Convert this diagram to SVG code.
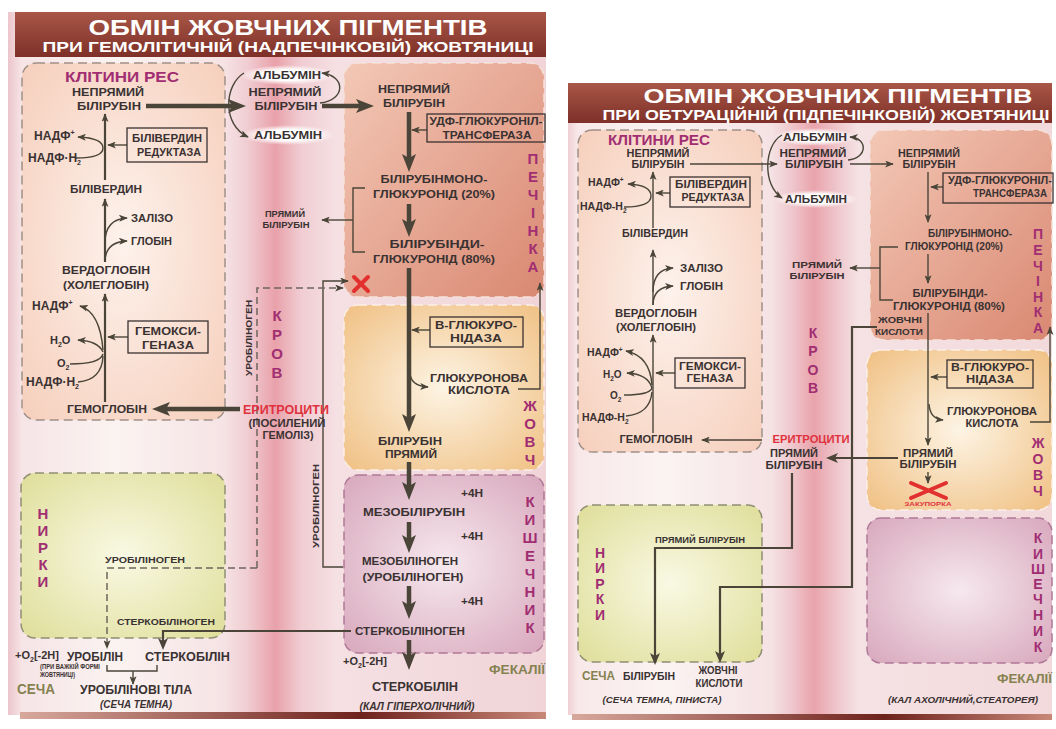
<svg xmlns="http://www.w3.org/2000/svg" width="1056" height="729" viewBox="0 0 1056 729">
<defs>
<linearGradient id="bgL" gradientUnits="userSpaceOnUse" x1="8" y1="0" x2="546" y2="0">
<stop offset="0" stop-color="#ecc5cb"/><stop offset="0.025" stop-color="#f6e4e6"/><stop offset="0.2" stop-color="#fbf3f1"/><stop offset="0.4" stop-color="#f6e3e5"/><stop offset="0.445" stop-color="#f0cdd2"/><stop offset="0.497" stop-color="#e9a1aa"/><stop offset="0.545" stop-color="#f0cdd2"/><stop offset="0.61" stop-color="#f5e0e3"/><stop offset="1" stop-color="#f0d4d8"/>
</linearGradient>
<linearGradient id="bgR" gradientUnits="userSpaceOnUse" x1="568" y1="0" x2="1052" y2="0">
<stop offset="0" stop-color="#efd0d4"/><stop offset="0.02" stop-color="#f8e8e9"/><stop offset="0.2" stop-color="#fbf3f2"/><stop offset="0.42" stop-color="#f5e2e4"/><stop offset="0.46" stop-color="#efc9ce"/><stop offset="0.508" stop-color="#e9a3ab"/><stop offset="0.56" stop-color="#efc9ce"/><stop offset="0.6" stop-color="#f5e2e4"/><stop offset="1" stop-color="#f2d9dc"/>
</linearGradient>
<linearGradient id="title" x1="0" y1="0" x2="0" y2="1">
<stop offset="0" stop-color="#a85646"/><stop offset="1" stop-color="#7e3028"/>
</linearGradient>
<linearGradient id="foot" x1="0" y1="0" x2="1" y2="0">
<stop offset="0" stop-color="#d8a89c"/><stop offset="0.65" stop-color="#6e221c"/><stop offset="1" stop-color="#c88878"/>
</linearGradient>
<radialGradient id="gRes" cx="0.5" cy="0.5" r="0.7"><stop offset="0" stop-color="#fdf2ec"/><stop offset="1" stop-color="#f6cfbc"/></radialGradient>
<linearGradient id="gLiv" x1="0" y1="0" x2="1" y2="1"><stop offset="0" stop-color="#f3c8b6"/><stop offset="1" stop-color="#d98872"/></linearGradient>
<radialGradient id="gBile" cx="0.5" cy="0.5" r="0.7"><stop offset="0" stop-color="#fdf4e4"/><stop offset="1" stop-color="#f0c083"/></radialGradient>
<radialGradient id="gInt" cx="0.5" cy="0.5" r="0.7"><stop offset="0" stop-color="#f6e8ee"/><stop offset="1" stop-color="#d8a8bc"/></radialGradient>
<radialGradient id="gKid" cx="0.5" cy="0.5" r="0.7"><stop offset="0" stop-color="#f9f9e4"/><stop offset="1" stop-color="#dfde9a"/></radialGradient>
<radialGradient id="gW" cx="0.5" cy="0.5" r="0.5"><stop offset="0.55" stop-color="#ffffff"/><stop offset="1" stop-color="#ffffff" stop-opacity="0"/></radialGradient>
<marker id="a" viewBox="0 0 10 8" markerWidth="9" markerHeight="7" refX="9" refY="4" orient="auto" markerUnits="userSpaceOnUse"><path d="M0 0 L10 4 L0 8 L2.5 4 Z" fill="#4a4538"/></marker>
<marker id="m" viewBox="0 0 12 10" markerWidth="12" markerHeight="10" refX="7" refY="5" orient="auto" markerUnits="userSpaceOnUse"><path d="M0 0 L12 5 L0 10 L3 5 Z" fill="#4a4538"/></marker>
<marker id="b" viewBox="0 0 18 14" markerWidth="18" markerHeight="14" refX="9" refY="7" orient="auto" markerUnits="userSpaceOnUse"><path d="M0 0 L18 7 L0 14 L4 7 Z" fill="#4a4538"/></marker>
</defs>
<style>
.t{font-family:"Liberation Sans",Arial,sans-serif;font-weight:bold;fill:#3a3232}
.c{text-anchor:middle}
.p{fill:#a12e72}
.r{fill:#e0323e}
.o{fill:#858250}
.w{fill:#ffffff}
.i{font-style:italic}
.ln{fill:none;stroke:#4a4538;stroke-width:1.4}
.md{fill:none;stroke:#4a4538;stroke-width:2.2}
.th{fill:none;stroke:#4a4538;stroke-width:4.5}
.ds{fill:none;stroke:#6e665e;stroke-width:1.5;stroke-dasharray:7 4}
.box{fill:none;stroke:#3a3232;stroke-width:1.3}
.bx{stroke-width:1.5;stroke-dasharray:9 5}
.x{stroke:#e2302e;stroke-width:4;stroke-linecap:round}
</style>
<rect width="1056" height="729" fill="#ffffff"/>
<!-- panels -->
<g id="panel-left">
<rect x="8" y="12" width="538" height="703" fill="url(#bgL)"/>
<rect x="15" y="12" width="531" height="45" fill="url(#title)"/>
<rect x="20" y="712" width="526" height="7" fill="url(#foot)"/>
</g>
<g id="panel-right">
<rect x="568" y="83" width="484" height="632" fill="url(#bgR)"/>
<rect x="568" y="83" width="484" height="40" fill="url(#title)"/>
<rect x="572" y="714" width="480" height="6" fill="url(#foot)"/>
</g>
<g id="title-left">
<text class="t c w" x="288" y="35" font-size="22" textLength="399" lengthAdjust="spacingAndGlyphs">ОБМІН ЖОВЧНИХ ПІГМЕНТІВ</text>
<text class="t c w" x="288" y="52" font-size="15" textLength="491" lengthAdjust="spacingAndGlyphs">ПРИ ГЕМОЛІТИЧНІЙ (НАДПЕЧІНКОВІЙ) ЖОВТЯНИЦІ</text>
</g>
<g id="title-right">
<text class="t c w" x="838" y="103" font-size="21" textLength="389" lengthAdjust="spacingAndGlyphs">ОБМІН ЖОВЧНИХ ПІГМЕНТІВ</text>
<text class="t c w" x="826" y="120" font-size="14.5" textLength="447" lengthAdjust="spacingAndGlyphs">ПРИ ОБТУРАЦІЙНІЙ (ПІДПЕЧІНКОВІЙ) ЖОВТЯНИЦІ</text>
</g>
<!-- LEFT boxes -->
<g id="L-res-box"><rect x="22" y="63" width="203" height="357" rx="14" fill="url(#gRes)" class="bx" stroke="#a09088"/></g>
<g id="L-liver-box"><rect x="344" y="63" width="200" height="234" rx="14" fill="url(#gLiv)" class="bx" stroke="#f5e2da"/></g>
<g id="L-bile-box"><rect x="344" y="305" width="200" height="165" rx="14" fill="url(#gBile)" class="bx" stroke="#fbefe6"/></g>
<g id="L-int-box"><rect x="344" y="475" width="200" height="178" rx="14" fill="url(#gInt)" class="bx" stroke="#b07898"/></g>
<g id="L-kid-box"><rect x="21" y="473" width="204" height="165" rx="14" fill="url(#gKid)" class="bx" stroke="#8f8f74"/></g>
<!-- RIGHT boxes -->
<g id="R-res-box"><rect x="578" y="130" width="184" height="322" rx="14" fill="url(#gRes)" class="bx" stroke="#a09088"/></g>
<g id="R-liver-box"><rect x="870" y="130" width="182" height="210" rx="14" fill="url(#gLiv)" class="bx" stroke="#f5e2da"/></g>
<g id="R-bile-box"><rect x="867" y="350" width="185" height="160" rx="14" fill="url(#gBile)" class="bx" stroke="#fbefe6"/></g>
<g id="R-int-box"><rect x="867" y="518" width="185" height="145" rx="14" fill="url(#gInt)" class="bx" stroke="#b07898"/></g>
<g id="R-kid-box"><rect x="578" y="505" width="184" height="157" rx="14" fill="url(#gKid)" class="bx" stroke="#8f8f74"/></g>
<!-- albumin glows -->
<g id="glows">
<ellipse cx="287" cy="75" rx="47" ry="10" fill="url(#gW)"/>
<ellipse cx="288" cy="135" rx="47" ry="10" fill="url(#gW)"/>
<ellipse cx="815" cy="137" rx="42" ry="9" fill="url(#gW)"/>
<ellipse cx="816" cy="199" rx="42" ry="9" fill="url(#gW)"/>
</g>
<!-- CONNECTORS -->
<g id="connectors">
<!-- left -->
<path class="th" d="M146 106 H237" marker-end="url(#b)"/>
<path class="th" d="M322 106 H365" marker-end="url(#b)"/>
<path class="ln" d="M244 73 C 224 85, 222 125, 248 137" marker-end="url(#a)"/>
<path class="ln" d="M320 103 C 346 100, 346 76, 322 73" marker-end="url(#a)"/>
<path class="md" d="M105 180 V114" marker-end="url(#a)"/>
<path class="ln" d="M76 158 Q 103 158 103 148 Q 103 138 78 137" marker-end="url(#a)"/>
<path class="ln" d="M127 145 H108" marker-end="url(#a)"/>
<path class="md" d="M105 262 V199" marker-end="url(#a)"/>
<path class="ln" d="M105 243 Q 105 219 127 218" marker-end="url(#a)"/>
<path class="ln" d="M105 262 Q 105 242 127 241" marker-end="url(#a)"/>
<path class="md" d="M105 402 V294" marker-end="url(#a)"/>
<path class="ln" d="M103 350 Q 100 312 80 306" marker-end="url(#a)"/>
<path class="ln" d="M103 352 Q 98 341 78 340" marker-end="url(#a)"/>
<path class="ln" d="M70 364 Q 100 364 103 354"/>
<path class="ln" d="M78 382 Q 102 380 103 356"/>
<path class="ln" d="M128 337 H108" marker-end="url(#a)"/>
<path class="th" d="M240 409 H161" marker-end="url(#b)"/>
<path class="th" d="M409 112 V163" marker-end="url(#b)"/>
<path class="ln" d="M427 130 H412" marker-end="url(#a)"/>
<path class="th" d="M409 204 V228" marker-end="url(#b)"/>
<path class="ln" d="M365 188 H353 V252 H365"/>
<path class="ln" d="M353 220 H322" marker-end="url(#a)"/>
<path class="th" d="M409 268 V423" marker-end="url(#b)"/>
<path class="ln" d="M430 330 H412" marker-end="url(#a)"/>
<path class="ln" d="M410 372 Q 410 386 428 387" marker-end="url(#a)"/>
<path class="ln" d="M518 389 H540 V283" marker-end="url(#a)"/>
<path class="th" d="M409 462 V491" marker-end="url(#b)"/>
<path class="th" d="M409 522 V544" marker-end="url(#b)"/>
<path class="th" d="M409 586 V610" marker-end="url(#b)"/>
<path class="th" d="M409 640 V661" marker-end="url(#b)"/>
<path class="ln" d="M343 567 H323 V281 H348" marker-end="url(#a)"/>
<path class="ds" d="M257 568 V288 H343" marker-end="url(#a)"/>
<path class="ds" d="M257 568 H107 V648" marker-end="url(#a)"/>
<path class="md" d="M351 631 H163 V645" marker-end="url(#m)"/>
<path class="ln" d="M107 665 V671 H157 V665"/>
<path class="ln" d="M133 671 V684" marker-end="url(#a)"/>
<!-- right -->
<path class="ln" d="M690 164 H777" marker-end="url(#a)"/>
<path class="ln" d="M782 135 C 764 145, 762 185, 782 198" marker-end="url(#a)"/>
<path class="ln" d="M848 160 C 868 158, 868 138, 850 137" marker-end="url(#a)"/>
<path class="ln" d="M850 164 H893" marker-end="url(#a)"/>
<path class="ln" d="M653 228 V172" marker-end="url(#a)"/>
<path class="ln" d="M624 207 Q 651 207 651 196 Q 651 185 628 184" marker-end="url(#a)"/>
<path class="ln" d="M670 193 H656" marker-end="url(#a)"/>
<path class="ln" d="M653 305 V250" marker-end="url(#a)"/>
<path class="ln" d="M653 292 Q 653 269 673 268" marker-end="url(#a)"/>
<path class="ln" d="M653 305 Q 653 287 673 286" marker-end="url(#a)"/>
<path class="ln" d="M653 433 V335" marker-end="url(#a)"/>
<path class="ln" d="M652 385 Q 650 356 626 351" marker-end="url(#a)"/>
<path class="ln" d="M652 388 Q 648 374 627 373" marker-end="url(#a)"/>
<path class="ln" d="M624 395 Q 650 395 652 388"/>
<path class="ln" d="M626 416 Q 650 414 652 392"/>
<path class="ln" d="M675 373 H656" marker-end="url(#a)"/>
<path class="ln" d="M762 440 H702" marker-end="url(#a)"/>
<path class="ln" d="M928 172 V222" marker-end="url(#a)"/>
<path class="ln" d="M943 187 H931" marker-end="url(#a)"/>
<path class="ln" d="M928 254 V283" marker-end="url(#a)"/>
<path class="ln" d="M898 247 H880 V300 H893"/>
<path class="ln" d="M880 268 H850" marker-end="url(#a)"/>
<path class="ln" d="M928 313 V445" marker-end="url(#a)"/>
<path class="ln" d="M947 377 H931" marker-end="url(#a)"/>
<path class="ln" d="M929 404 Q 930 419 943 420" marker-end="url(#a)"/>
<path class="ln" d="M1030 422 H1050 V327" marker-end="url(#a)"/>
<path class="ln" d="M928 472 V483" marker-end="url(#a)"/>
<path class="md" d="M898 458 H831" marker-end="url(#m)"/>
<path class="md" d="M877 327 H852 V587 H720 V658" marker-end="url(#m)"/>
<path class="md" d="M792 473 V548 H655 V660" marker-end="url(#m)"/>
</g>
<!-- LEFT nodes -->
<g id="L-res-title"><text class="t c p" x="122" y="82" font-size="15" textLength="114" lengthAdjust="spacingAndGlyphs">КЛІТИНИ РЕС</text></g>
<g id="L-nepr1"><text class="t c" x="108" y="96" font-size="11" textLength="72" lengthAdjust="spacingAndGlyphs">НЕПРЯМИЙ</text><text class="t c" x="109" y="110" font-size="11" textLength="64" lengthAdjust="spacingAndGlyphs">БІЛІРУБІН</text></g>
<g id="L-alb1"><text class="t c" x="287" y="79" font-size="11" textLength="68" lengthAdjust="spacingAndGlyphs">АЛЬБУМІН</text></g>
<g id="L-nepr2"><text class="t c" x="285" y="96" font-size="11" textLength="73" lengthAdjust="spacingAndGlyphs">НЕПРЯМИЙ</text><text class="t c" x="286" y="110" font-size="11" textLength="63" lengthAdjust="spacingAndGlyphs">БІЛІРУБІН</text></g>
<g id="L-alb2"><text class="t c" x="288" y="139" font-size="11" textLength="68" lengthAdjust="spacingAndGlyphs">АЛЬБУМІН</text></g>
<g id="L-nepr3"><text class="t c" x="414" y="93" font-size="11" textLength="72" lengthAdjust="spacingAndGlyphs">НЕПРЯМИЙ</text><text class="t c" x="414" y="107" font-size="11" textLength="62" lengthAdjust="spacingAndGlyphs">БІЛІРУБІН</text></g>
<g id="L-nadp1"><text class="t" x="34" y="140" font-size="12">НАДФ<tspan dy="-5" font-size="7">+</tspan></text></g>
<g id="L-nadph1"><text class="t" x="28" y="162" font-size="12">НАДФ·Н<tspan dy="3" font-size="7">2</tspan></text></g>
<g id="L-bvr"><rect class="box" x="127" y="128" width="80" height="34"/><text class="t c" x="167" y="142" font-size="11" textLength="70" lengthAdjust="spacingAndGlyphs">БІЛІВЕРДИН</text><text class="t c" x="169" y="156" font-size="11" textLength="64" lengthAdjust="spacingAndGlyphs">РЕДУКТАЗА</text></g>
<g id="L-bv"><text class="t c" x="106" y="193" font-size="11" textLength="72" lengthAdjust="spacingAndGlyphs">БІЛІВЕРДИН</text></g>
<g id="L-fe"><text class="t" x="131" y="222" font-size="11" textLength="42" lengthAdjust="spacingAndGlyphs">ЗАЛІЗО</text></g>
<g id="L-glob"><text class="t" x="131" y="245" font-size="11" textLength="41" lengthAdjust="spacingAndGlyphs">ГЛОБІН</text></g>
<g id="L-verd"><text class="t c" x="106" y="274" font-size="11" textLength="88" lengthAdjust="spacingAndGlyphs">ВЕРДОГЛОБІН</text><text class="t c" x="106" y="289" font-size="11" textLength="86" lengthAdjust="spacingAndGlyphs">(ХОЛЕГЛОБІН)</text></g>
<g id="L-nadp2"><text class="t" x="32" y="310" font-size="12">НАДФ<tspan dy="-5" font-size="7">+</tspan></text></g>
<g id="L-h2o"><text class="t" x="50" y="344" font-size="11">H<tspan dy="3" font-size="7">2</tspan><tspan dy="-3">O</tspan></text></g>
<g id="L-o2"><text class="t" x="57" y="367" font-size="11">O<tspan dy="3" font-size="7">2</tspan></text></g>
<g id="L-nadph2"><text class="t" x="26" y="386" font-size="12">НАДФ·Н<tspan dy="3" font-size="7">2</tspan></text></g>
<g id="L-hox"><rect class="box" x="128" y="321" width="80" height="32"/><text class="t c" x="168" y="335" font-size="11" textLength="66" lengthAdjust="spacingAndGlyphs">ГЕМОКСИ-</text><text class="t c" x="168" y="349" font-size="11" textLength="52" lengthAdjust="spacingAndGlyphs">ГЕНАЗА</text></g>
<g id="L-hb"><text class="t c" x="107" y="413" font-size="11" textLength="80" lengthAdjust="spacingAndGlyphs">ГЕМОГЛОБІН</text></g>
<g id="L-ery"><text class="t c r" x="286" y="414" font-size="12" textLength="86" lengthAdjust="spacingAndGlyphs">ЕРИТРОЦИТИ</text><text class="t c" x="287" y="427" font-size="10" textLength="77" lengthAdjust="spacingAndGlyphs">(ПОСИЛЕНИЙ</text><text class="t c" x="288" y="439" font-size="10" textLength="51" lengthAdjust="spacingAndGlyphs">ГЕМОЛІЗ)</text></g>
<g id="L-krov" class="t c p" font-size="15"><text x="277" y="321">К</text><text x="277" y="340">Р</text><text x="277" y="359">О</text><text x="277" y="378">В</text></g>
<g id="L-uro1"><text class="t c" transform="translate(252 338) rotate(-90)" font-size="9" textLength="76" lengthAdjust="spacingAndGlyphs">УРОБІЛІНОГЕН</text></g>
<g id="L-uro2"><text class="t c" transform="translate(319 506) rotate(-90)" font-size="9" textLength="84" lengthAdjust="spacingAndGlyphs">УРОБІЛІНОГЕН</text></g>
<g id="L-pryamy"><text class="t c" x="285" y="217" font-size="8.5" textLength="40" lengthAdjust="spacingAndGlyphs">ПРЯМИЙ</text><text class="t c" x="286" y="228" font-size="8.5" textLength="47" lengthAdjust="spacingAndGlyphs">БІЛІРУБІН</text></g>
<g id="L-udf"><rect class="box" x="427" y="114" width="118" height="28"/><text class="t c" x="486" y="125" font-size="11" textLength="113" lengthAdjust="spacingAndGlyphs">УДФ-ГЛЮКУРОНІЛ-</text><text class="t c" x="487" y="139" font-size="11" textLength="89" lengthAdjust="spacingAndGlyphs">ТРАНСФЕРАЗА</text></g>
<g id="L-mono"><text class="t c" x="434" y="183" font-size="11" textLength="107" lengthAdjust="spacingAndGlyphs">БІЛІРУБІНМОНО-</text><text class="t c" x="434" y="198" font-size="11" textLength="122" lengthAdjust="spacingAndGlyphs">ГЛЮКУРОНІД (20%)</text></g>
<g id="L-di"><text class="t c" x="437" y="248" font-size="11" textLength="95" lengthAdjust="spacingAndGlyphs">БІЛІРУБІНДИ-</text><text class="t c" x="434" y="263" font-size="11" textLength="122" lengthAdjust="spacingAndGlyphs">ГЛЮКУРОНІД (80%)</text></g>
<g id="L-pechinka" class="t c p" font-size="15"><text x="533" y="164">П</text><text x="533" y="182">Е</text><text x="533" y="200">Ч</text><text x="533" y="218">І</text><text x="533" y="236">Н</text><text x="533" y="254">К</text><text x="533" y="272">А</text></g>
<g id="L-block"><path class="x" d="M354 277 L368 291 M368 277 L354 291"/></g>
<g id="L-bgluc"><rect class="box" x="430" y="317" width="93" height="30"/><text class="t c" x="476" y="329" font-size="11" textLength="82" lengthAdjust="spacingAndGlyphs">В-ГЛЮКУРО-</text><text class="t c" x="476" y="342" font-size="11" textLength="52" lengthAdjust="spacingAndGlyphs">НІДАЗА</text></g>
<g id="L-glucacid"><text class="t c" x="479" y="382" font-size="11" textLength="98" lengthAdjust="spacingAndGlyphs">ГЛЮКУРОНОВА</text><text class="t c" x="479" y="394" font-size="11" textLength="62" lengthAdjust="spacingAndGlyphs">КИСЛОТА</text></g>
<g id="L-zhovch" class="t c p" font-size="15"><text x="530" y="411">Ж</text><text x="530" y="429">О</text><text x="530" y="447">В</text><text x="530" y="465">Ч</text></g>
<g id="L-direct"><text class="t c" x="410" y="445" font-size="11" textLength="64" lengthAdjust="spacingAndGlyphs">БІЛІРУБІН</text><text class="t c" x="411" y="458" font-size="11" textLength="52" lengthAdjust="spacingAndGlyphs">ПРЯМИЙ</text></g>
<g id="L-h1"><text class="t" x="461" y="497" font-size="10" textLength="22" lengthAdjust="spacingAndGlyphs">+4Н</text></g>
<g id="L-mezobr"><text class="t c" x="414" y="516" font-size="11" textLength="102" lengthAdjust="spacingAndGlyphs">МЕЗОБІЛІРУБІН</text></g>
<g id="L-h2"><text class="t" x="461" y="540" font-size="10" textLength="22" lengthAdjust="spacingAndGlyphs">+4Н</text></g>
<g id="L-mezobg"><text class="t c" x="410" y="565" font-size="11" textLength="96" lengthAdjust="spacingAndGlyphs">МЕЗОБІЛІНОГЕН</text><text class="t c" x="413" y="581" font-size="11" textLength="101" lengthAdjust="spacingAndGlyphs">(УРОБІЛІНОГЕН)</text></g>
<g id="L-h3"><text class="t" x="461" y="605" font-size="10" textLength="22" lengthAdjust="spacingAndGlyphs">+4Н</text></g>
<g id="L-sterkg"><text class="t c" x="410" y="635" font-size="11" textLength="110" lengthAdjust="spacingAndGlyphs">СТЕРКОБІЛІНОГЕН</text></g>
<g id="L-kish" class="t c p" font-size="15"><text x="530" y="507">К</text><text x="530" y="525">И</text><text x="530" y="543">Ш</text><text x="530" y="561">Е</text><text x="530" y="579">Ч</text><text x="530" y="597">Н</text><text x="530" y="615">И</text><text x="530" y="633">К</text></g>
<g id="L-o2b"><text class="t" x="343" y="665" font-size="11">+O<tspan dy="3" font-size="7">2</tspan><tspan dy="-3">[-2H]</tspan></text></g>
<g id="L-sterk"><text class="t c" x="415" y="691" font-size="13" textLength="86" lengthAdjust="spacingAndGlyphs">СТЕРКОБІЛІН</text><text class="t c i" x="417" y="710" font-size="10" textLength="115" lengthAdjust="spacingAndGlyphs">(КАЛ ГІПЕРХОЛІЧНИЙ)</text></g>
<g id="L-fek"><text class="t o" x="489" y="674" font-size="13" textLength="56" lengthAdjust="spacingAndGlyphs">ФЕКАЛІЇ</text></g>
<g id="L-nirky" class="t c p" font-size="15"><text x="43" y="519">Н</text><text x="43" y="536">И</text><text x="43" y="553">Р</text><text x="43" y="570">К</text><text x="43" y="587">И</text></g>
<g id="L-kuro"><text class="t" x="105" y="563" font-size="9.5" textLength="80" lengthAdjust="spacingAndGlyphs">УРОБІЛІНОГЕН</text></g>
<g id="L-ksterk"><text class="t" x="117" y="625" font-size="9.5" textLength="98" lengthAdjust="spacingAndGlyphs">СТЕРКОБІЛІНОГЕН</text></g>
<g id="L-o2c"><text class="t" x="15" y="659" font-size="11">+O<tspan dy="3" font-size="7">2</tspan><tspan dy="-3">[-2H]</tspan></text></g>
<g id="L-urobilin"><text class="t" x="67" y="661" font-size="13" textLength="56" lengthAdjust="spacingAndGlyphs">УРОБІЛІН</text><text class="t" x="40" y="669" font-size="6.5" textLength="60" lengthAdjust="spacingAndGlyphs">(ПРИ ВАЖКІЙ ФОРМІ</text><text class="t" x="40" y="677" font-size="6.5" textLength="35" lengthAdjust="spacingAndGlyphs">ЖОВТЯНИЦІ)</text></g>
<g id="L-sterkobilin"><text class="t" x="145" y="661" font-size="13" textLength="85" lengthAdjust="spacingAndGlyphs">СТЕРКОБІЛІН</text></g>
<g id="L-secha"><text class="t o" x="17" y="694" font-size="14" textLength="38" lengthAdjust="spacingAndGlyphs">СЕЧА</text></g>
<g id="L-urotila"><text class="t" x="80" y="694" font-size="13" textLength="112" lengthAdjust="spacingAndGlyphs">УРОБІЛІНОВІ ТІЛА</text><text class="t c i" x="136" y="708" font-size="10" textLength="72" lengthAdjust="spacingAndGlyphs">(СЕЧА ТЕМНА)</text></g>
<!-- RIGHT nodes -->
<g id="R-res-title"><text class="t c p" x="659" y="145" font-size="15" textLength="102" lengthAdjust="spacingAndGlyphs">КЛІТИНИ РЕС</text></g>
<g id="R-nepr1"><text class="t c" x="658" y="157" font-size="10" textLength="63" lengthAdjust="spacingAndGlyphs">НЕПРЯМИЙ</text><text class="t c" x="658" y="168" font-size="10" textLength="53" lengthAdjust="spacingAndGlyphs">БІЛІРУБІН</text></g>
<g id="R-alb1"><text class="t c" x="815" y="141" font-size="10" textLength="64" lengthAdjust="spacingAndGlyphs">АЛЬБУМІН</text></g>
<g id="R-nepr2"><text class="t c" x="813" y="157" font-size="10" textLength="67" lengthAdjust="spacingAndGlyphs">НЕПРЯМИЙ</text><text class="t c" x="814" y="168" font-size="10" textLength="58" lengthAdjust="spacingAndGlyphs">БІЛІРУБІН</text></g>
<g id="R-alb2"><text class="t c" x="816" y="203" font-size="10" textLength="62" lengthAdjust="spacingAndGlyphs">АЛЬБУМІН</text></g>
<g id="R-nepr3"><text class="t c" x="929" y="157" font-size="10" textLength="62" lengthAdjust="spacingAndGlyphs">НЕПРЯМИЙ</text><text class="t c" x="929" y="168" font-size="10" textLength="53" lengthAdjust="spacingAndGlyphs">БІЛІРУБІН</text></g>
<g id="R-nadp1"><text class="t" x="588" y="186" font-size="10.5">НАДФ<tspan dy="-4" font-size="6.5">+</tspan></text></g>
<g id="R-nadph1"><text class="t" x="580" y="210" font-size="10.5">НАДФ-Н<tspan dy="3" font-size="6.5">2</tspan></text></g>
<g id="R-bvr"><rect class="box" x="670" y="177" width="80" height="30"/><text class="t c" x="711" y="188" font-size="10" textLength="72" lengthAdjust="spacingAndGlyphs">БІЛІВЕРДИН</text><text class="t c" x="713" y="201" font-size="10" textLength="63" lengthAdjust="spacingAndGlyphs">РЕДУКТАЗА</text></g>
<g id="R-udf"><rect class="box" x="943" y="173" width="110" height="30"/><text class="t c" x="1000" y="184" font-size="10" textLength="104" lengthAdjust="spacingAndGlyphs">УДФ-ГЛЮКУРОНІЛ-</text><text class="t c" x="1010" y="197" font-size="10" textLength="74" lengthAdjust="spacingAndGlyphs">ТРАНСФЕРАЗА</text></g>
<g id="R-bv"><text class="t c" x="655" y="237" font-size="10" textLength="66" lengthAdjust="spacingAndGlyphs">БІЛІВЕРДИН</text></g>
<g id="R-mono"><text class="t c" x="970" y="237" font-size="10" textLength="84" lengthAdjust="spacingAndGlyphs">БІЛІРУБІНМОНО-</text><text class="t c" x="954" y="250" font-size="10" textLength="98" lengthAdjust="spacingAndGlyphs">ГЛЮКУРОНІД (20%)</text></g>
<g id="R-fe"><text class="t" x="680" y="272" font-size="10" textLength="43" lengthAdjust="spacingAndGlyphs">ЗАЛІЗО</text></g>
<g id="R-glob"><text class="t" x="680" y="290" font-size="10" textLength="43" lengthAdjust="spacingAndGlyphs">ГЛОБІН</text></g>
<g id="R-pryamy"><text class="t c" x="817" y="268" font-size="9" textLength="50" lengthAdjust="spacingAndGlyphs">ПРЯМИЙ</text><text class="t c" x="817" y="279" font-size="9" textLength="55" lengthAdjust="spacingAndGlyphs">БІЛІРУБІН</text></g>
<g id="R-di"><text class="t c" x="950" y="297" font-size="10" textLength="75" lengthAdjust="spacingAndGlyphs">БІЛІРУБІНДИ-</text><text class="t c" x="949" y="310" font-size="10" textLength="112" lengthAdjust="spacingAndGlyphs">ГЛЮКУРОНІД (80%)</text></g>
<g id="R-verd"><text class="t c" x="656" y="317" font-size="10" textLength="82" lengthAdjust="spacingAndGlyphs">ВЕРДОГЛОБІН</text><text class="t c" x="656" y="331" font-size="10" textLength="80" lengthAdjust="spacingAndGlyphs">(ХОЛЕГЛОБІН)</text></g>
<g id="R-zhk1"><text class="t c" x="900" y="323" font-size="9.5" textLength="44" lengthAdjust="spacingAndGlyphs">ЖОВЧНІ</text><text class="t c" x="899" y="335" font-size="9.5" textLength="48" lengthAdjust="spacingAndGlyphs">КИСЛОТИ</text></g>
<g id="R-pechinka" class="t c p" font-size="14"><text x="1038" y="239">П</text><text x="1038" y="255">Е</text><text x="1038" y="271">Ч</text><text x="1038" y="286">І</text><text x="1038" y="302">Н</text><text x="1038" y="317">К</text><text x="1038" y="333">А</text></g>
<g id="R-krov" class="t c p" font-size="14"><text x="813" y="338">К</text><text x="813" y="356">Р</text><text x="813" y="375">О</text><text x="813" y="393">В</text></g>
<g id="R-nadp2"><text class="t" x="587" y="356" font-size="10.5">НАДФ<tspan dy="-4" font-size="6.5">+</tspan></text></g>
<g id="R-h2o"><text class="t" x="603" y="378" font-size="10">H<tspan dy="3" font-size="6.5">2</tspan><tspan dy="-3">O</tspan></text></g>
<g id="R-o2"><text class="t" x="610" y="399" font-size="10">O<tspan dy="3" font-size="6.5">2</tspan></text></g>
<g id="R-nadph2"><text class="t" x="582" y="421" font-size="10.5">НАДФ-Н<tspan dy="3" font-size="6.5">2</tspan></text></g>
<g id="R-hox"><rect class="box" x="675" y="358" width="70" height="30"/><text class="t c" x="710" y="370" font-size="10" textLength="62" lengthAdjust="spacingAndGlyphs">ГЕМОКСИ-</text><text class="t c" x="710" y="382" font-size="10" textLength="47" lengthAdjust="spacingAndGlyphs">ГЕНАЗА</text></g>
<g id="R-bgluc"><rect class="box" x="947" y="360" width="86" height="28"/><text class="t c" x="990" y="371" font-size="10" textLength="78" lengthAdjust="spacingAndGlyphs">В-ГЛЮКУРО-</text><text class="t c" x="990" y="383" font-size="10" textLength="48" lengthAdjust="spacingAndGlyphs">НІДАЗА</text></g>
<g id="R-glucacid"><text class="t c" x="992" y="415" font-size="10" textLength="90" lengthAdjust="spacingAndGlyphs">ГЛЮКУРОНОВА</text><text class="t c" x="992" y="427" font-size="10" textLength="53" lengthAdjust="spacingAndGlyphs">КИСЛОТА</text></g>
<g id="R-hb"><text class="t c" x="656" y="443" font-size="10" textLength="73" lengthAdjust="spacingAndGlyphs">ГЕМОГЛОБІН</text></g>
<g id="R-ery"><text class="t c r" x="811" y="443" font-size="11" textLength="77" lengthAdjust="spacingAndGlyphs">ЕРИТРОЦИТИ</text></g>
<g id="R-pryamy2"><text class="t c" x="794" y="457" font-size="10.5" textLength="48" lengthAdjust="spacingAndGlyphs">ПРЯМИЙ</text><text class="t c" x="794" y="469" font-size="10.5" textLength="57" lengthAdjust="spacingAndGlyphs">БІЛІРУБІН</text></g>
<g id="R-pryamy3"><text class="t c" x="928" y="457" font-size="10" textLength="50" lengthAdjust="spacingAndGlyphs">ПРЯМИЙ</text><text class="t c" x="928" y="468" font-size="10" textLength="57" lengthAdjust="spacingAndGlyphs">БІЛІРУБІН</text></g>
<g id="R-zhovch" class="t c p" font-size="14"><text x="1038" y="448">Ж</text><text x="1038" y="464">О</text><text x="1038" y="480">В</text><text x="1038" y="496">Ч</text></g>
<g id="R-block"><path class="x" d="M911 483 L946 498 M911 498 L946 483"/><text class="t c r" x="928" y="506" font-size="6" textLength="47" lengthAdjust="spacingAndGlyphs">ЗАКУПОРКА</text></g>
<g id="R-nirky" class="t c p" font-size="14"><text x="600" y="558">Н</text><text x="600" y="573">И</text><text x="600" y="589">Р</text><text x="600" y="604">К</text><text x="600" y="620">И</text></g>
<g id="R-kpryamy"><text class="t" x="655" y="543" font-size="8.5" textLength="90" lengthAdjust="spacingAndGlyphs">ПРЯМИЙ БІЛІРУБІН</text></g>
<g id="R-kish" class="t c p" font-size="14"><text x="1038" y="543">К</text><text x="1038" y="559">И</text><text x="1038" y="574">Ш</text><text x="1038" y="589">Е</text><text x="1038" y="604">Ч</text><text x="1038" y="620">Н</text><text x="1038" y="636">И</text><text x="1038" y="652">К</text></g>
<g id="R-secha"><text class="t o" x="582" y="680" font-size="12" textLength="33" lengthAdjust="spacingAndGlyphs">СЕЧА</text></g>
<g id="R-bil"><text class="t" x="623" y="680" font-size="11" textLength="52" lengthAdjust="spacingAndGlyphs">БІЛІРУБІН</text></g>
<g id="R-zhk2"><text class="t c" x="718" y="674" font-size="11" textLength="39" lengthAdjust="spacingAndGlyphs">ЖОВЧНІ</text><text class="t c" x="719" y="687" font-size="11" textLength="47" lengthAdjust="spacingAndGlyphs">КИСЛОТИ</text></g>
<g id="R-secha2"><text class="t c i" x="662" y="703" font-size="9.5" textLength="119" lengthAdjust="spacingAndGlyphs">(СЕЧА ТЕМНА, ПІНИСТА)</text></g>
<g id="R-fek"><text class="t o" x="997" y="683" font-size="12" textLength="55" lengthAdjust="spacingAndGlyphs">ФЕКАЛІЇ</text></g>
<g id="R-kal"><text class="t c i" x="963" y="703" font-size="9.5" textLength="150" lengthAdjust="spacingAndGlyphs">(КАЛ АХОЛІЧНИЙ,СТЕАТОРЕЯ)</text></g>
</svg>
